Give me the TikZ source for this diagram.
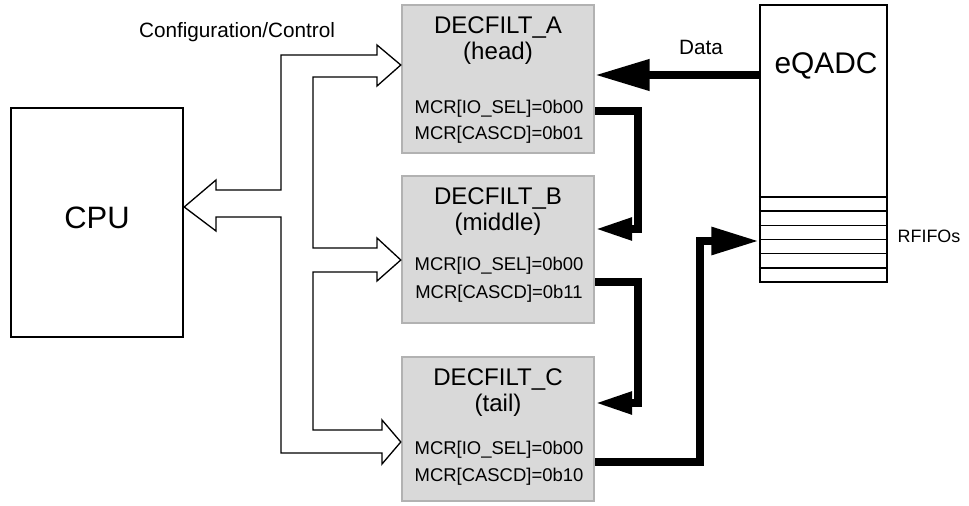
\documentclass[tikz,border=0pt]{standalone}
\usepackage{fontspec}
\setmainfont{Liberation Sans}
\usepackage{xcolor}
\usepackage{tikz}
\usetikzlibrary{arrows.meta,positioning}
\definecolor{filtfill}{RGB}{217,217,217}
\definecolor{filtedge}{RGB}{178,178,178}

\begin{document}
\begin{tikzpicture}[x=0.02cm,y=-0.02cm,
  txt/.style={inner sep=0pt,text height=0.716em,text depth=0pt},
  ttl/.style={txt,font=\fontsize{13.7}{16}\selectfont},
  mcr/.style={txt,font=\fontsize{10.5}{12}\selectfont},
  lbl/.style={txt,font=\fontsize{11.8}{14}\selectfont},
  blk/.style={draw,line width=1.4pt,inner sep=0pt},
  filt/.style={draw=filtedge,fill=filtfill,line width=1.4pt,inner sep=0pt,minimum width=3.84cm},
  bus/.style={line width=4.5pt,-{Triangle[length=21pt,width=12pt]}},
  databus/.style={line width=4.5pt,-{Triangle[length=31pt,width=17pt]}},
  fifobus/.style={line width=4.5pt,-{Triangle[length=27pt,width=15pt]}},
  cfgbus/.style={draw,fill=white,line width=0.75pt,line join=miter}]
\useasboundingbox (0,0) rectangle (969,506);
\node[blk,txt,minimum width=3.44cm,minimum height=4.58cm,font=\fontsize{17.6}{20}\selectfont] (cpu) at (97,222.5) {CPU};
\node[blk,minimum width=2.54cm,minimum height=5.54cm] (eq) at (823.5,143.5) {};
\node[txt,font=\fontsize{17}{20}\selectfont] (eqlbl) at (826,67) {eQADC};
\foreach \y in {197,211.2,225.3,239.5,253.7,267.8}
  \draw[line width=0.9pt] (eq.west |- 0,\y) -- (eq.east |- 0,\y);
\node[txt,font=\fontsize{10.2}{12}\selectfont] (fifolbl) at (929,236) {RFIFOs};
\foreach \n/\top/\h/\role/\ma/\mb/\cas in {A/5/148/head/102/128/01,B/176/147/middle/88/116/11,C/357/144/tail/91/118/10}{
  \node[filt,minimum height=\h*0.02cm] (dec\n) at (498,\top+\h/2) {};
  \node[ttl] at (498,\top+22) {DECFILT\_\n};
  \node[ttl] at (498,\top+48) {(\role)};
  \node[mcr] at (499,\top+\ma) {MCR[IO\_SEL]=0b00};
  \node[mcr] at (499,\top+\mb) {MCR[CASCD]=0b\cas};
}
\node[lbl] (cfglbl) at (237,31) {Configuration/Control};
\node[lbl] (datalbl) at (701,48) {Data};
\draw[cfgbus] (cpu.east |- 0,207) -- (216,180) -- (216,190) -- (281,190) -- (281,55)
  -- (377,55) -- (377,45) -- (decA.west |- 0,65) -- (377,86) -- (377,77) -- (313,77)
  -- (313,248) -- (377,248) -- (377,238) -- (decB.west |- 0,260) -- (377,281) -- (377,272)
  -- (313,272) -- (313,430) -- (382,430) -- (382,420) -- (decC.west |- 0,442) -- (382,464)
  -- (382,453) -- (281,453) -- (281,217) -- (216,217) -- (216,231) -- cycle;
\draw[databus] (eq.west |- 0,75) -- (decA.east |- 0,75);
\draw[bus] (decA.east |- 0,111) -| (638,229) -- (decB.east |- 0,229);
\draw[bus] (decB.east |- 0,282) -| (638,403) -- (decC.east |- 0,403);
\draw[fifobus] (decC.east |- 0,462) -| (700,241) -- (eq.west |- 0,241);
\end{tikzpicture}
\end{document}
